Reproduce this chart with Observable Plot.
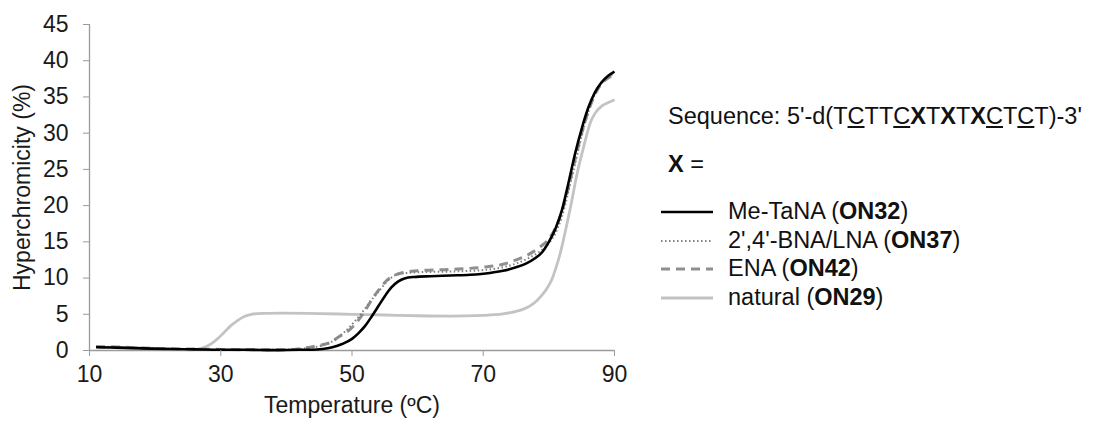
<!DOCTYPE html>
<html>
<head>
<meta charset="utf-8">
<script src="https://cdn.jsdelivr.net/npm/d3@7"></script>
<script src="https://cdn.jsdelivr.net/npm/@observablehq/plot@0.6"></script>
<style>
  html, body { margin: 0; padding: 0; background: #fff; }
  #wrap { position: relative; width: 1093px; height: 426px; font-family: "Liberation Sans", Arial, sans-serif; color: #111; }
  #legend { position: absolute; left: 0; top: 0; width: 1093px; height: 426px; pointer-events: none; font-size: 23.5px; }
  .lg { position: absolute; white-space: nowrap; line-height: 1; }
  .sw { position: absolute; }
</style>
</head>
<body>
<div id="wrap">
  <div id="chart"></div>
  <div id="legend"></div>
</div>
<script>
// ---- Data ----
const xTicks = [10, 30, 50, 70, 90];
const yTicks = [0, 5, 10, 15, 20, 25, 30, 35, 40, 45];

const seriesNames = ["Me-TaNA", "2',4'-BNA/LNA", "ENA", "natural"];
const seriesCodes = ["ON32", "ON37", "ON42", "ON29"];

const tMeTaNA = [11, 14, 18, 22, 26, 30, 34, 38, 42, 44, 45.5, 47, 48.5, 50, 51, 52, 53, 54, 55, 56, 57, 58, 59.5, 62, 65, 68, 71, 73, 75, 76.5, 78, 79, 80, 81, 82, 83, 84, 85, 86, 87, 88, 89, 90];
const hMeTaNA = [0.45, 0.4, 0.3, 0.2, 0.15, 0.1, 0.1, 0.05, 0.1, 0.1, 0.2, 0.45, 0.9, 1.6, 2.4, 3.4, 4.7, 6.1, 7.5, 8.7, 9.5, 9.95, 10.15, 10.25, 10.35, 10.45, 10.7, 11.0, 11.5, 12.0, 12.8, 13.6, 15.0, 16.8, 19.4, 23.2, 27.2, 30.6, 33.5, 35.6, 37.0, 37.9, 38.5];

const tLNA = [11, 14, 18, 22, 26, 30, 34, 38, 41, 43.8, 45.5, 46.8, 48, 48.8, 50.3, 51.6, 52.9, 54.2, 55.2, 56.2, 57.5, 60, 65, 70, 73, 75, 77, 78.5, 80, 81, 82, 83, 84, 85, 86, 87, 88, 89, 90];
const hLNA = [0.5, 0.45, 0.35, 0.25, 0.15, 0.1, 0.1, 0.1, 0.15, 0.4, 0.7, 1.15, 1.9, 2.5, 3.9, 5.3, 6.9, 8.3, 9.4, 10.2, 10.6, 10.8, 10.9, 11.1, 11.5, 12.0, 12.8, 13.6, 14.8, 16.2, 18.5, 22.0, 25.8, 29.6, 32.9, 35.3, 36.8, 37.7, 38.2];

const tENA = [11, 14, 18, 22, 26, 30, 34, 38, 41, 43.8, 45.5, 46.8, 48, 49.3, 50.9, 52, 53, 54.2, 55.2, 56.5, 58, 60, 65, 70, 73, 75, 77, 78.5, 80, 81, 82, 83, 84, 85, 86, 87, 88, 89, 90];
const hENA = [0.55, 0.5, 0.35, 0.25, 0.2, 0.15, 0.1, 0.1, 0.15, 0.5, 0.8, 1.15, 1.9, 2.6, 4.1, 5.5, 7.0, 8.5, 9.6, 10.4, 10.8, 11.0, 11.2, 11.5, 11.9, 12.5, 13.3, 14.2, 15.4, 16.9, 19.2, 22.6, 26.4, 30.0, 33.0, 35.3, 36.8, 37.6, 38.1];

const tNatural = [11.3, 13.3, 17, 21, 24, 25.5, 26.5, 27.5, 28.5, 29.5, 30.5, 31.5, 32.5, 33.5, 34.5, 35.5, 37, 39.2, 45, 50, 55, 60, 65, 70, 73, 75, 76.2, 77.2, 78.2, 79, 79.8, 80.5, 81, 81.7, 82.3, 83.3, 84.3, 85.3, 86.3, 87, 88, 89, 90];
const hNatural = [0.4, 0.45, 0.35, 0.25, 0.15, 0.1, 0.2, 0.45, 0.9, 1.6, 2.5, 3.4, 4.1, 4.65, 4.95, 5.08, 5.12, 5.15, 5.1, 5.0, 4.9, 4.8, 4.75, 4.85, 5.05, 5.4, 5.75, 6.2, 6.9, 7.7, 8.7, 9.9, 11.2, 13.3, 15.6, 19.8, 24.4, 28.1, 31.4, 32.7, 33.7, 34.2, 34.6];

// ---- Styles ----
const styles = [
  {stroke: "#000000", strokeWidth: 2.6, strokeDasharray: null},
  {stroke: "#808080", strokeWidth: 2, strokeDasharray: "1.5,2.5"},
  {stroke: "#8f8f8f", strokeWidth: 3, strokeDasharray: "9,6"},
  {stroke: "#c3c3c3", strokeWidth: 2.8, strokeDasharray: null}
];

const toRows = (ts, hs) => ts.map((t, i) => ({t, h: hs[i]}));
const dataSets = [toRows(tMeTaNA, hMeTaNA), toRows(tLNA, hLNA), toRows(tENA, hENA), toRows(tNatural, hNatural)];

const lineMark = (i) => Plot.line(dataSets[i], {
  x: "t", y: "h", curve: "monotone-x",
  stroke: styles[i].stroke, strokeWidth: styles[i].strokeWidth,
  strokeDasharray: styles[i].strokeDasharray || undefined,
  strokeLinecap: "butt"
});

const axisColor = "#9a9a9a";
const textColor = "#1a1a1a";
const fs = 23;

const chart = Plot.plot({
  width: 1093,
  height: 426,
  marginLeft: 89,
  marginRight: 479,
  marginTop: 24,
  marginBottom: 76,
  style: {fontFamily: "'Liberation Sans', Arial, sans-serif", fontSize: fs + "px", background: "#fff"},
  x: {domain: [10, 90]},
  y: {domain: [0, 45]},
  marks: [
    Plot.ruleY([0], {stroke: axisColor, strokeWidth: 1.3}),
    Plot.ruleX([10], {stroke: axisColor, strokeWidth: 1.3}),
    lineMark(3),
    lineMark(2),
    lineMark(1),
    lineMark(0),
    Plot.axisX({ticks: xTicks, tickSize: 6, tickPadding: 9, stroke: axisColor, fill: textColor, fontSize: fs, label: null}),
    Plot.axisY({ticks: yTicks, tickSize: 6, tickPadding: 15, stroke: axisColor, fill: textColor, fontSize: fs, label: null}),
    Plot.text(["Temperature (ºC)"], {frameAnchor: "bottom", dy: 62, fill: textColor, fontSize: fs, textAnchor: "middle"}),
    Plot.text(["Hyperchromicity (%)"], {frameAnchor: "left", rotate: -90, dx: -67, fill: textColor, fontSize: fs, textAnchor: "middle"})
  ]
});
document.getElementById("chart").appendChild(chart);

// ---- Legend (HTML overlay) ----
const legend = document.getElementById("legend");
function addText(html, x, yc) {
  const d = document.createElement("div");
  d.className = "lg";
  d.innerHTML = html;
  d.style.left = x + "px";
  d.style.top = (yc - 12) + "px";
  legend.appendChild(d);
}
addText("Sequence: 5'-d(T<u>C</u>TT<u>C</u><b>X</b>T<b>X</b>T<b>X</b><u>C</u>T<u>C</u>T)-3'", 668, 117);
addText("<b>X</b> =", 668, 165);
const rowY = [212, 240.5, 269, 297.5];
seriesNames.forEach((name, i) => {
  const svgNS = "http://www.w3.org/2000/svg";
  const s = document.createElementNS(svgNS, "svg");
  s.setAttribute("class", "sw");
  s.setAttribute("width", 60);
  s.setAttribute("height", 10);
  s.style.left = "659px";
  s.style.top = (rowY[i] - 5) + "px";
  const l = document.createElementNS(svgNS, "line");
  l.setAttribute("x1", 2); l.setAttribute("x2", 54);
  l.setAttribute("y1", 5); l.setAttribute("y2", 5);
  l.setAttribute("stroke", styles[i].stroke);
  l.setAttribute("stroke-width", styles[i].strokeWidth);
  if (styles[i].strokeDasharray) l.setAttribute("stroke-dasharray", styles[i].strokeDasharray);
  s.appendChild(l);
  legend.appendChild(s);
  addText(`${name} (<b>${seriesCodes[i]}</b>)`, 728, rowY[i]);
});
</script>
</body>
</html>
